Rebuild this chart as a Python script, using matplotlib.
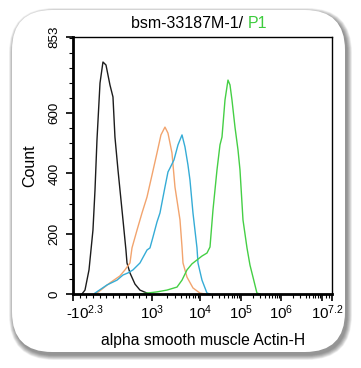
import numpy as np
import matplotlib
matplotlib.use("Agg")
import matplotlib.pyplot as plt
from matplotlib.patches import FancyBboxPatch
from matplotlib.transforms import ScaledTranslation

plt.rcParams['font.family'] = ['Liberation Sans', 'DejaVu Sans']
plt.rcParams['mathtext.fontset'] = 'custom'
plt.rcParams['mathtext.rm'] = 'Liberation Sans'
plt.rcParams['mathtext.it'] = 'Liberation Sans'
plt.rcParams['mathtext.bf'] = 'Liberation Sans'

# ---------------- data (fluorescence intensity, count) ----------------
black_x = [-68, -22, 39, 99, 130, 160, 206, 251, 297, 357, 403, 433, 479, 555, 600, 616, 661, 737, 813, 920, 965]
black_y = [0, 13, 80, 212, 345, 511, 700, 770, 760, 694, 654, 521, 412, 246, 146, 103, 70, 33, 13, 3, 0]

orange_x = [160, 357, 509, 585, 661, 692, 768, 844, 920, 996, 1255, 1520, 1845, 2133, 2588, 2990, 3810, 4200, 4405, 5340, 7130, 10000, 13270]
orange_y = [3, 37, 60, 80, 103, 153, 212, 269, 322, 395, 468, 528, 554, 534, 468, 355, 246, 156, 103, 56, 20, 3, 0]

blue_x = [130, 312, 464, 555, 631, 707, 813, 920, 965, 1034, 1255, 1450, 1845, 2133, 2350, 2850, 3460, 4200, 4850, 5600, 6170, 7130, 8650, 9080, 11200, 14860, 17600]
blue_y = [3, 30, 46, 63, 70, 80, 103, 146, 153, 189, 239, 269, 355, 405, 418, 445, 495, 528, 488, 428, 378, 269, 153, 103, 46, 3, 0]

green_x = [813, 920, 1255, 2030, 3300, 4200, 5340, 6790, 8650, 11200, 14860, 17620, 20860, 26170, 31000, 34730, 41150, 48750, 54600, 61100, 72400, 85900, 96100, 114000, 143300, 170000, 202000, 253000, 302000]
green_y = [0, 3, 7, 13, 23, 46, 80, 100, 113, 126, 136, 156, 279, 412, 495, 521, 644, 710, 694, 644, 554, 478, 412, 246, 153, 96, 56, 3, 0]

series_colors = ['#1c1c1c', '#f2a46e', '#35acd6', '#45cf45']

x_tick_vals = [-10 ** 2.3, 1e3, 1e4, 1e5, 1e6, 1e7, 10 ** 7.2]
x_tick_labels = ['-$\\mathregular{10^{2.3}}$', '$\\mathregular{10^{3}}$', '$\\mathregular{10^{4}}$',
                 '$\\mathregular{10^{5}}$', '$\\mathregular{10^{6}}$', '', '$\\mathregular{10^{7.2}}$']
y_tick_vals = [0, 200, 400, 600, 853]
y_tick_labels = ['0', '200', '400', '600', '853']

title_main = 'bsm-33187M-1/ '
title_gate = 'P1'
x_label = 'alpha smooth muscle Actin-H'
y_label = 'Count'

# ---------------- logicle-like axis scale ----------------
G_KNOTS = np.array([-0.6, 3.0, 4.0, 5.0, 6.0, 7.0, 7.2])
P_KNOTS = np.array([73.3, 152.3, 200.0, 240.7, 281.0, 321.7, 332.0])


def fwd(v):
    v = np.asarray(v, dtype=float)
    g = np.where(v <= 1000, v * 3.0 / 1000.0, np.log10(np.maximum(v, 1000.0)))
    return np.interp(g, G_KNOTS, P_KNOTS) + \
        np.where(g < G_KNOTS[0], (g - G_KNOTS[0]) * 22, 0) + \
        np.where(g > G_KNOTS[-1], (g - G_KNOTS[-1]) * 40, 0)


def inv(p):
    p = np.asarray(p, dtype=float)
    g = np.interp(p, P_KNOTS, G_KNOTS)
    return np.where(g <= 3, g * 1000.0 / 3.0, 10 ** np.minimum(g, 12))


W, H = 361, 368
fig = plt.figure(figsize=(W / 100, H / 100), dpi=100)
fig.patch.set_facecolor('white')

# background frame with shadow
bg = fig.add_axes([0, 0, 1, 1], zorder=-5)
bg.set_xlim(0, W)
bg.set_ylim(H, 0)
bg.axis('off')
x0, y0, x1, y1 = 12, 10, 345, 352
for i in range(14, 0, -1):
    off = i * 0.9
    p = FancyBboxPatch((x0 - off * 0.4 + 2, y0 - off * 0.4 + 3),
                       (x1 - x0) + off * 0.8, (y1 - y0) + off * 0.8,
                       boxstyle='round,pad=0,rounding_size=%f' % (40 + off * 0.4),
                       facecolor='black', edgecolor='none', alpha=0.035)
    bg.add_patch(p)
bg.add_patch(FancyBboxPatch((x0, y0), x1 - x0, y1 - y0,
                            boxstyle='round,pad=0,rounding_size=40',
                            facecolor='white', edgecolor='none'))

ax = fig.add_axes([73.3 / W, (H - 294) / H, (332 - 73.3) / W, (294 - 37) / H])
ax.set_xscale('function', functions=(fwd, inv))
ax.set_xlim(-10 ** 2.3, 10 ** 7.2)
ax.set_ylim(0, 853)

for xs, ys, c in zip([black_x, orange_x, blue_x, green_x],
                     [black_y, orange_y, blue_y, green_y], series_colors):
    ax.plot(xs, ys, color=c, lw=1.0)

ax.set_xticks(x_tick_vals)
ax.set_xticklabels(x_tick_labels, fontsize=10.8)
minor_x = list(np.arange(-100, 1000, 100))
for k in range(3, 7):
    minor_x += [m * 10 ** k for m in range(2, 10)]
minor_x += [10 ** 7 * m for m in (1.2, 1.4)]
ax.set_xticks(minor_x, minor=True)

ax.set_yticks(y_tick_vals)
ax.set_yticklabels(y_tick_labels, fontsize=9.6, rotation=90, va='center')
ax.set_yticks([v for v in range(50, 853, 50) if v not in y_tick_vals], minor=True)

ax.tick_params(axis='both', which='major', direction='out', length=5, width=1.2, color='black', pad=2)
ax.tick_params(axis='both', which='minor', direction='out', length=3, width=0.8, color='black')
ax.tick_params(axis='y', pad=4)

for s in ['left', 'bottom']:
    ax.spines[s].set_linewidth(2.0)
for s in ['top', 'right']:
    ax.spines[s].set_linewidth(1.0)

labels = ax.get_xticklabels()
labels[0].set_transform(labels[0].get_transform() + ScaledTranslation(12 / 100, 0, fig.dpi_scale_trans))
labels[-1].set_transform(labels[-1].get_transform() + ScaledTranslation(-5 / 100, 0, fig.dpi_scale_trans))

ax.set_xlabel(x_label, fontsize=11.3, labelpad=8)
ax.set_ylabel(y_label, fontsize=11.5, labelpad=8)

# title: two-coloured, centred as a group at x~199 px
t1 = fig.text(0, 1 - 24 / H, title_main, fontsize=11.5, ha='left', va='center', color='black')
t2 = fig.text(0, 1 - 24 / H, title_gate, fontsize=11.5, ha='left', va='center', color='#3dcc3d')
fig.canvas.draw()
r = fig.canvas.get_renderer()
w1 = t1.get_window_extent(r).width
w2 = t2.get_window_extent(r).width
start = 199 - (w1 + w2) / 2
t1.set_x(start / W)
t2.set_x((start + w1) / W)
fig.savefig('out.png', dpi=100)
